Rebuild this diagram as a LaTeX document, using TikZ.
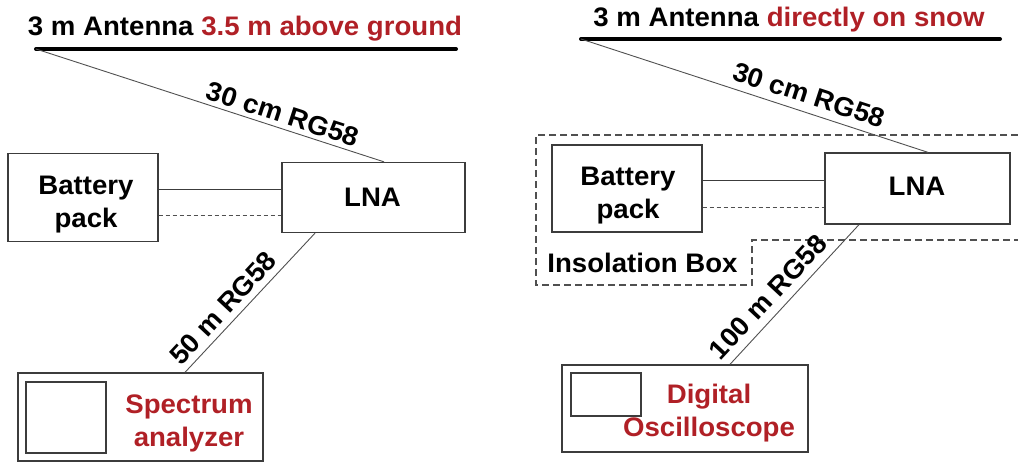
\documentclass[tikz,border=0pt]{standalone}
\usepackage{fontspec}
\setmainfont[FakeStretch=1.03]{Liberation Sans}
\definecolor{dred}{RGB}{176,32,38}
\definecolor{boxgray}{RGB}{60,60,60}
\definecolor{cablegray}{RGB}{80,80,80}
\begin{document}
\begin{tikzpicture}[x=1pt,y=-1pt,
  every node/.style={font=\fontsize{26.8}{33}\selectfont\bfseries, inner sep=0pt},
  box/.style={draw=boxgray, line width=1.3pt, minimum width=#1},
  cable/.style={draw=cablegray, line width=0.9pt},
  antenna/.style={line width=4pt, line cap=round},
  feed/.style={draw=boxgray, line width=0.9pt},
  feeddash/.style={draw=cablegray, line width=0.9pt, dash pattern=on 4pt off 3pt},
  insbox/.style={draw=cablegray, line width=1.1pt, dash pattern=on 7pt off 4pt},
  lbl/.style={align=center}]
\useasboundingbox (0,0) rectangle (1018,463);

% ---------------- left setup ----------------
\node[anchor=base] (titleL) at (245,35) {3 m Antenna \textcolor{dred}{3.5 m above ground}};
\coordinate (antL) at (36,49);
\coordinate (antLe) at (456,49);
\draw[antenna] (antL) -- (antLe);

\node[box=150pt, minimum height=88pt] (batL) at (83,197.5) {};
\node[lbl] (batLt) at (86,204.5) {Battery\\pack};
\node[box=183pt, minimum height=70pt] (lnaL) at (373.5,197.5) {};
\node (lnaLt) at (372.5,197.5) {LNA};
\node[box=245pt, minimum height=88pt] (specL) at (140.5,417) {};
\node[box=80pt, minimum height=71pt] (specScr) at (66,417.5) {};
\node[lbl, text=dred] (specT) at (189,423) {Spectrum\\analyzer};

\draw[cable] (antL) -- ([xshift=10.5pt]lnaL.north);
\draw[feed] ([yshift=8.5pt]batL.east) -- ([yshift=8.5pt]lnaL.west);
\draw[feeddash] ([yshift=-17.5pt]batL.east) -- ([yshift=-17.5pt]lnaL.west);
\draw[cable] ([xshift=-58.5pt]lnaL.south) -- ([xshift=44.5pt]specL.north);

\node[rotate=-18] (c30L) at (283,114) {30 cm RG58};
\node[rotate=47] (c50L) at (223,308) {50 m RG58};

% ---------------- right setup ----------------
\node[anchor=base] (titleR) at (789,26) {3 m Antenna \textcolor{dred}{directly on snow}};
\coordinate (antR) at (581,39);
\coordinate (antRe) at (1000,39);
\draw[antenna] (antR) -- (antRe);

\draw[insbox] (1018,135) -- (536,135) -- (536,285) -- (752,285) -- (752,240) -- (1018,240);
\node[anchor=base] (insT) at (642.5,272) {Insolation Box};

\node[box=150pt, minimum height=87pt] (batR) at (627,188.5) {};
\node[lbl] (batRt) at (628,195.5) {Battery\\pack};
\node[box=185pt, minimum height=71pt] (lnaR) at (917.5,188.5) {};
\node (lnaRt) at (917,186.5) {LNA};
\node[box=246pt, minimum height=87pt] (oscR) at (685,408.5) {};
\node[box=70pt, minimum height=43pt] (oscScr) at (606,394.5) {};
\node[lbl, text=dred] (oscT) at (709,413) {Digital\\Oscilloscope};

\draw[cable] (antR) -- ([xshift=10.5pt]lnaR.north);
\draw[feed] ([yshift=8.5pt]batR.east) -- ([yshift=8.5pt]lnaR.west);
\draw[feeddash] ([yshift=-18.5pt]batR.east) -- ([yshift=-18.5pt]lnaR.west);
\draw[cable] ([xshift=-58.5pt]lnaR.south) -- ([xshift=45pt]oscR.north);

\node[rotate=-18] (c30R) at (809,95) {30 cm RG58};
\node[rotate=47] (c100R) at (768,297) {100 m RG58};
\end{tikzpicture}
\end{document}
